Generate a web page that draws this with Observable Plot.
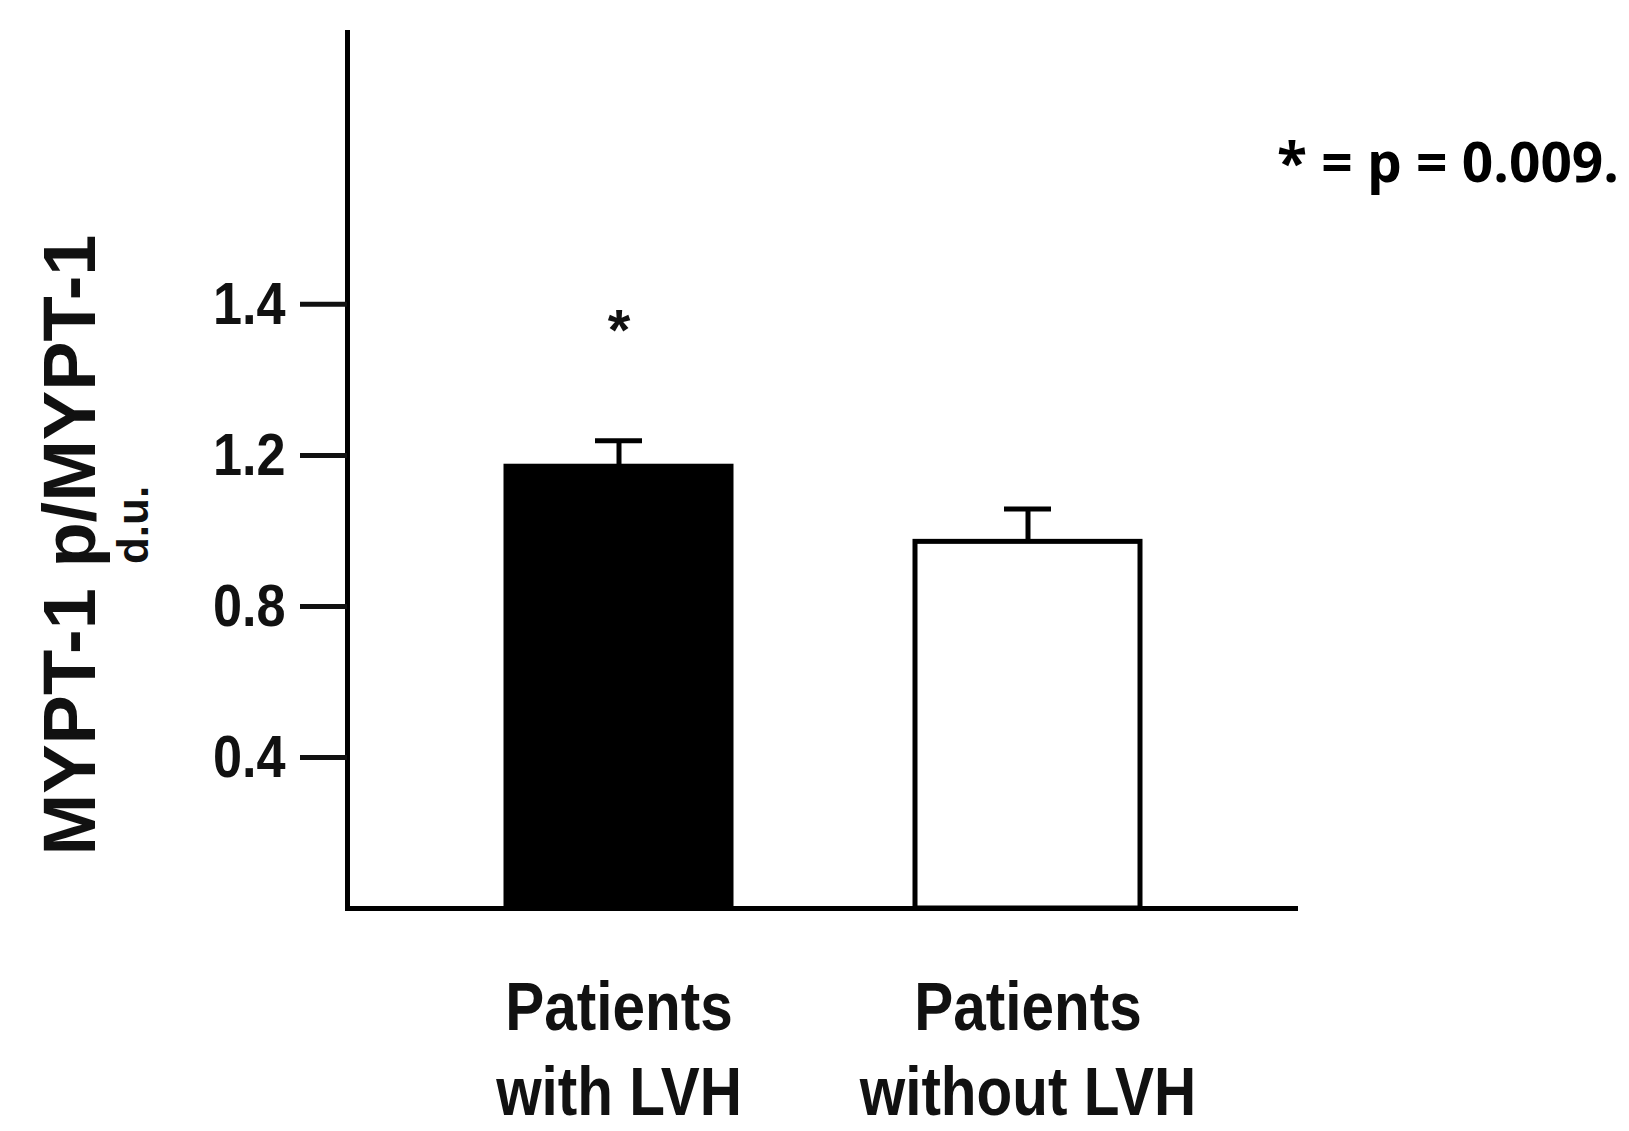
<!DOCTYPE html>
<html>
<head>
<meta charset="utf-8">
<script src="https://cdn.jsdelivr.net/npm/d3@7"></script>
<script src="https://cdn.jsdelivr.net/npm/@observablehq/plot@0.6"></script>
<style>
  body { margin: 0; background: #fff; }
  #wrap { position: relative; width: 1629px; height: 1131px; overflow: hidden; background: #fff; }
  #wrap svg { position: absolute; left: 0; top: 0; }
  .ytitle {
    position: absolute; left: 70px; top: 545px;
    transform: translate(-50%, -50%) rotate(-90deg);
    font-family: "Liberation Sans", Arial, sans-serif; font-weight: bold;
    font-size: 74px; line-height: 1; white-space: nowrap; color: #111;
  }
  .ysub {
    position: absolute; left: 133px; top: 525px;
    transform: translate(-50%, -50%) rotate(-90deg);
    font-family: "Liberation Sans", Arial, sans-serif; font-weight: bold;
    font-size: 44px; line-height: 1; white-space: nowrap; color: #111;
  }
  .pnote {
    position: absolute; left: 1277px; top: 133px;
    font-family: "Open Sans", Lato, sans-serif; font-weight: bold;
    font-size: 55px; line-height: 1; white-space: nowrap; color: #000;
  }
</style>
</head>
<body>
<div id="wrap"></div>
<script>
// ---- data ----
const groups = ["Patients\nwith LVH", "Patients\nwithout LVH"];
const means = [1.17, 0.971];
const errors = [0.069, 0.087];
const fills = ["black", "white"];
const significance = ["*", ""];
const yTickValues = [0.4, 0.8, 1.2, 1.6];
const yTickLabels = ["0.4", "0.8", "1.2", "1.4"];
const yTitle = "MYPT-1 p/MYPT-1";
const ySubtitle = "d.u.";
const pNote = "* = p = 0.009.";

const rows = groups.map((g, i) => ({
  group: g, mean: means[i], upper: means[i] + errors[i], fill: fills[i], sig: significance[i]
}));

const sans = "'Liberation Sans', Arial, sans-serif";

const chart = Plot.plot({
  width: 1629,
  height: 1131,
  marginLeft: 347,
  marginRight: 331,
  marginTop: 32,
  marginBottom: 223,
  style: { fontFamily: sans, fontWeight: "bold", background: "white", color: "#111", overflow: "visible" },
  x: { domain: groups, paddingInner: 0.4505, paddingOuter: 0.3864, label: null },
  y: { domain: [0, 2.32], label: null },
  color: { type: "identity" },
  marks: [
    Plot.barY(rows, { x: "group", y: "mean", fill: "fill", stroke: "black", strokeWidth: 5 }),
    Plot.ruleX(rows, { x: "group", y1: "mean", y2: "upper", stroke: "black", strokeWidth: 5 }),
    Plot.tickY(rows, { x: "group", y: "upper", stroke: "black", strokeWidth: 5, inset: 89 }),
    Plot.text(rows, { x: "group", y: "upper", text: "sig", lineAnchor: "bottom", dy: -91, fontSize: 58 }),
    Plot.ruleY([0], { stroke: "black", strokeWidth: 5 }),
    Plot.frame({ anchor: "left", stroke: "black", strokeWidth: 5 }),
    Plot.axisY({
      ticks: yTickValues,
      tickFormat: d => yTickLabels[yTickValues.indexOf(d)],
      tickSize: 47, tickPadding: 15, strokeWidth: 5, fontSize: 60, label: null
    }),
    Plot.axisX({ tickSize: 0, tickPadding: 62, fontSize: 68, lineHeight: 1.24, label: null })
  ]
});

const wrap = document.getElementById("wrap");
wrap.appendChild(chart);

// condense the axis labels horizontally (the reference uses a narrow face),
// scaling each label about its own anchor point
function condense(selector, k, fontSize) {
  d3.select(chart).selectAll(selector).each(function () {
    const xa = this.getAttribute("x");
    let xv = 0;
    if (xa) xv = parseFloat(xa) * (/em$/.test(xa) ? fontSize : 1);
    if (!isFinite(xv)) xv = 0;
    const tr = this.getAttribute("transform") || "";
    this.setAttribute("transform", `${tr} translate(${xv},0) scale(${k},1) translate(${-xv},0)`);
  });
}
condense('g[aria-label="x-axis tick label"] text', 0.86, 68);
condense('g[aria-label="y-axis tick label"] text', 0.87, 60);

const t = document.createElement("div"); t.className = "ytitle"; t.textContent = yTitle; wrap.appendChild(t);
const s = document.createElement("div"); s.className = "ysub"; s.textContent = ySubtitle; wrap.appendChild(s);
const p = document.createElement("div"); p.className = "pnote"; p.textContent = pNote; wrap.appendChild(p);
</script>
</body>
</html>
